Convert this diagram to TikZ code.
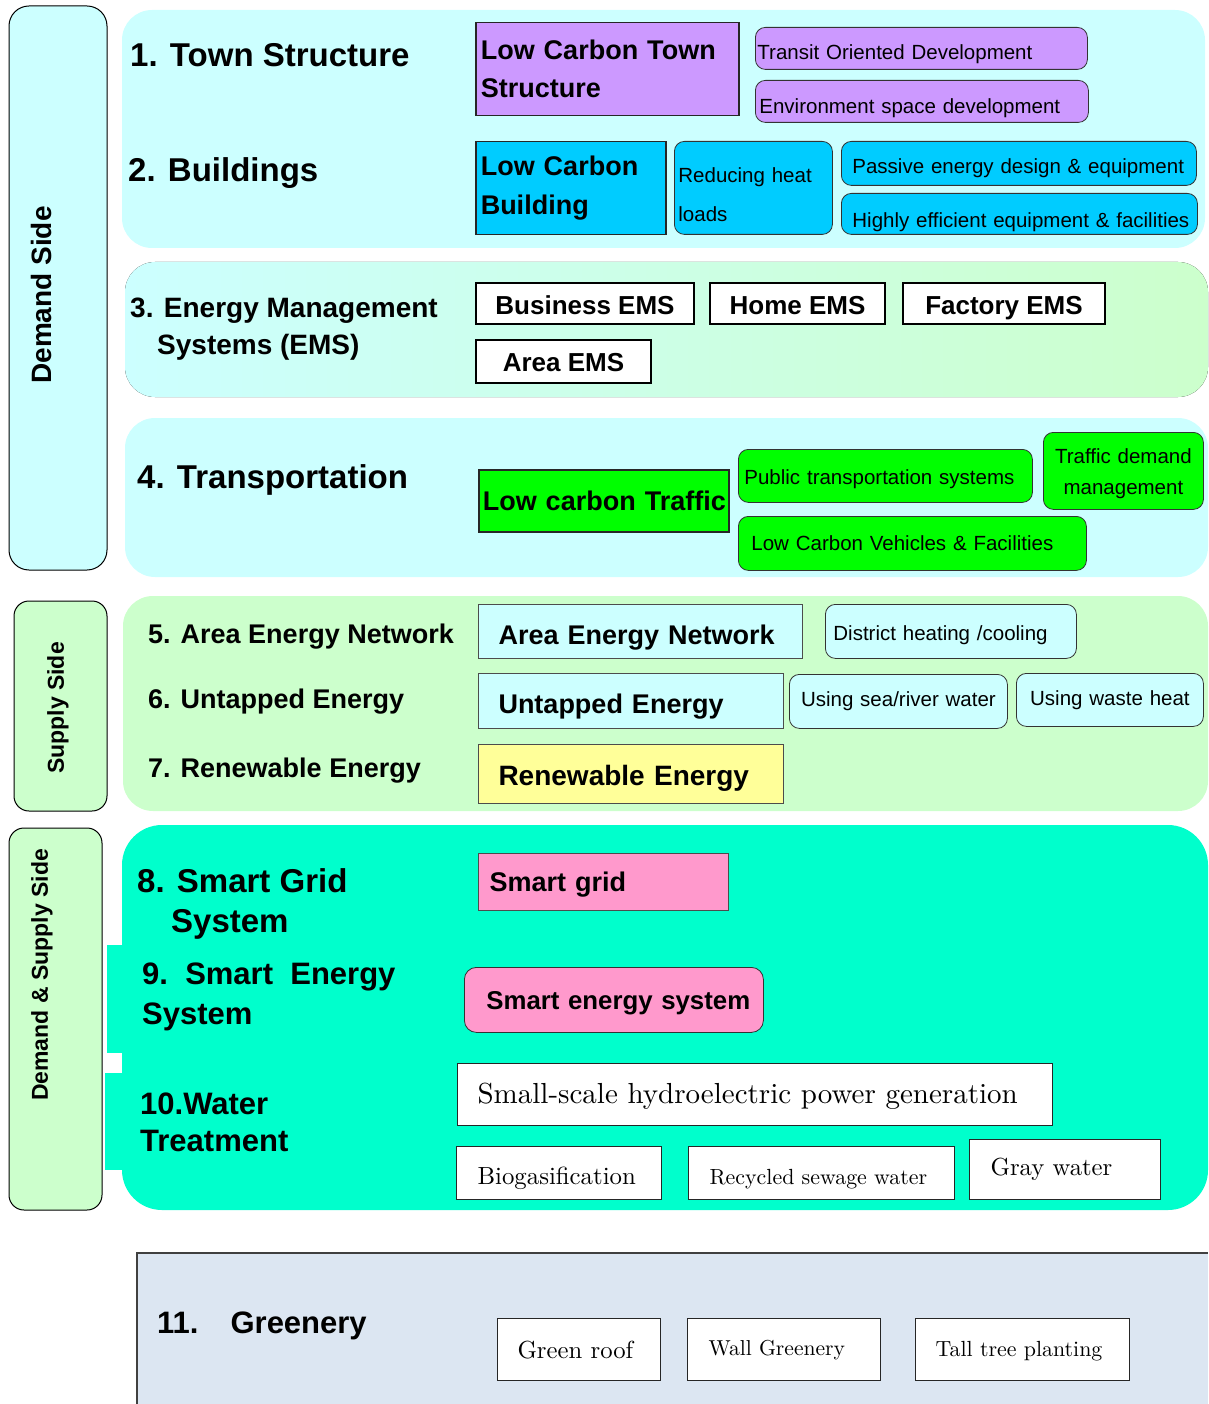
\documentclass[tikz,border=0pt]{standalone}
\usepackage{fontspec}
\newfontfamily\arial{Liberation Sans}
\newfontfamily\lmten{lmroman10-regular.otf}
\newcommand\bsf[2]{\arial\bfseries\fontsize{#1}{#2}\selectfont}
\newcommand\rsf[2]{\arial\fontsize{#1}{#2}\selectfont}
\newcommand\lmf[1]{\lmten\fontsize{#1}{#1}\selectfont}
\definecolor{paleCyan}{HTML}{CCFFFF}
\definecolor{paleGreen}{HTML}{CCFFCC}
\definecolor{lilac}{HTML}{CC99FF}
\definecolor{skyBlue}{HTML}{00CCFF}
\definecolor{limeGreen}{HTML}{00FF00}
\definecolor{aqua}{HTML}{00FFCC}
\definecolor{paleYellow}{HTML}{FFFF99}
\definecolor{rosePink}{HTML}{FF99CC}
\definecolor{greyBlue}{HTML}{DCE6F2}
\tikzset{
	lbox/.style={anchor=north west, inner ysep=0pt, align=left},
	sqbox/.style={lbox, draw=black!85, line width=1.5pt},
	rdbox/.style={lbox, draw=black!80, line width=0.8pt, rounded corners=10pt},
	emsbox/.style={anchor=north west, draw=black, line width=2pt, fill=white, inner sep=0pt,
		text depth=0pt, font={\bsf{26}{30}}},
	serbox/.style={lbox, draw=black!85, line width=1.2pt, fill=white},
	heading/.style={anchor=west, align=left, inner sep=0pt},
	side/.style={rotate=90, inner sep=0pt}
}
\begin{document}
\begin{tikzpicture}[x=1pt,y=-1pt]
\useasboundingbox (0,0) rectangle (1208,1404);
% bands
\fill[paleCyan, rounded corners=30pt] (122,10) rectangle (1205,248);
\fill[rounded corners=30pt, left color=paleCyan, right color=paleGreen] (125,262) rectangle (1208,397);
\fill[paleCyan, rounded corners=30pt] (125,418) rectangle (1208,577);
\fill[paleGreen, rounded corners=30pt] (123,596) rectangle (1208,811);
\fill[aqua, rounded corners=40pt] (122,825) rectangle (1208,1210);
\fill[aqua] (107,945) rectangle (140,1053);
\fill[aqua] (105,1073) rectangle (140,1170);
\fill[greyBlue] (137,1253) rectangle (1208,1404);
\draw[black!75, line width=2pt] (137,1404) -- (137,1253) -- (1208,1253);

% side panels
\draw[fill=paleCyan, rounded corners=20pt, line width=1pt] (9,6) rectangle (107,570);
\draw[fill=paleGreen, rounded corners=15pt, line width=1pt] (14,601) rectangle (107,811);
\draw[fill=paleGreen, rounded corners=15pt, line width=1pt] (9,828) rectangle (102,1210);
\node[side, font={\bsf{28}{34}}] (demand) at (41,295) {Demand Side};
\node[side, font={\bsf{23}{28}}] (supply) at (58,708) {Supply Side};
\node[side, font={\bsf{23}{28}}] (both) at (42,975) {Demand \& Supply Side};

% headings
\node[heading, font={\bsf{33}{40}}] (h1) at (130,55) {1. Town Structure};
\node[heading, font={\bsf{33}{40}}] (h2) at (128,173) {2. Buildings};
\node[heading, font={\bsf{28}{37}}] (h3) at (130,329) {3. Energy Management\\\hspace*{27pt}Systems (EMS)};
\node[heading, font={\bsf{33}{40}}] (h4) at (137,480) {4. Transportation};
\node[heading, font={\bsf{27}{32}}] (h5) at (148,637) {5. Area Energy Network};
\node[heading, font={\bsf{27}{32}}] (h6) at (148,702) {6. Untapped Energy};
\node[heading, font={\bsf{27}{32}}] (h7) at (148,771) {7. Renewable Energy};
\node[heading, font={\bsf{33}{40}}] (h8) at (137,904) {8. Smart Grid\\\hspace*{34pt}System};
\node[heading, font={\bsf{31}{40}}] (h9) at (142,997) {9.\ \ Smart\ \ Energy\\System};
\node[heading, font={\bsf{31}{37}}] (h10) at (140,1122) {10.Water\\Treatment};
\node[heading, font={\bsf{31}{37}}] (h11) at (157,1326) {11.\hspace{32pt}Greenery};

% 1-2 town and buildings
\node[sqbox, fill=lilac, inner xsep=5pt, text width=253pt, minimum height=93pt, font={\bsf{27}{38}}] (lctown) at (475,22) {Low Carbon Town\\Structure};
\node[rdbox, fill=lilac, inner xsep=2pt, text width=328pt, minimum height=42pt, text height=26pt, font={\rsf{20.5}{24}}] (tod) at (755,27) {Transit Oriented Development};
\node[rdbox, fill=lilac, inner xsep=4pt, text width=325pt, minimum height=42pt, text height=28pt, font={\rsf{20.5}{24}}] (esd) at (755,80) {Environment space development};
\node[sqbox, fill=skyBlue, inner xsep=5pt, text width=180pt, minimum height=93pt, font={\bsf{27}{39}}] (lcbld) at (475,141) {Low Carbon\\Building};
\node[rdbox, fill=skyBlue, inner xsep=4pt, text width=150pt, minimum height=93pt, font={\rsf{20.5}{39}}] (heat) at (674,141) {\rule{0pt}{29pt}Reducing heat\\loads};
\node[rdbox, fill=skyBlue, inner xsep=11pt, text width=333pt, minimum height=44pt, text height=24pt, font={\rsf{20.5}{24}}] (passive) at (841,141) {Passive energy design \& equipment};
\node[rdbox, fill=skyBlue, inner xsep=11pt, text width=334pt, minimum height=41pt, text height=31pt, font={\rsf{20.5}{24}}] (effic) at (841,193) {\mbox{Highly efficient equipment \& facilities}};

% 3 EMS
\foreach \nm/\x/\y/\w/\h/\th/\txt in {bems/475/282/218/41/23/Business EMS, hems/709/282/175/41/23/Home EMS,
	fems/902/282/202/41/23/Factory EMS, aems/475/339/175/43/19/Area EMS}
{
	\node[emsbox, minimum width=\w pt, minimum height=\h pt, text height=\th pt] (\nm) at (\x,\y) {\txt};
}

% 4 transportation
\node[sqbox, fill=limeGreen, inner xsep=4pt, text width=242pt, minimum height=62pt, text height=25pt, text depth=6pt, font={\bsf{27}{32}}] (traffic) at (478,469) {\mbox{Low carbon Traffic}};
\node[rdbox, fill=limeGreen, inner xsep=6pt, text width=282pt, minimum height=53pt, text height=21pt, font={\rsf{20.5}{24}}] (public) at (738,449) {Public transportation systems};
\node[rdbox, fill=limeGreen, inner xsep=0pt, text width=160pt, minimum height=77pt, align=center, font={\rsf{20.5}{31}}] (tdm) at (1043,432) {\rule{0pt}{21pt}Traffic demand\\management};
\node[rdbox, fill=limeGreen, inner xsep=13pt, text width=322pt, minimum height=54pt, font={\rsf{20.5}{24}}] (vehic) at (738,516) {Low Carbon Vehicles \& Facilities};

% 5-7 supply
\node[sqbox, draw=black!70, line width=1pt, fill=paleCyan, inner xsep=20pt, text width=284pt, minimum height=54pt, text height=31pt, text depth=6pt, font={\bsf{27}{32}}] (aen) at (478,604) {Area Energy Network};
\node[rdbox, fill=paleCyan, inner xsep=8pt, text width=235pt, minimum height=54pt, text height=22pt, font={\rsf{20.5}{24}}] (district) at (825,604) {District heating /cooling};
\node[sqbox, draw=black!70, line width=1pt, fill=paleCyan, inner xsep=20pt, text width=265pt, minimum height=55pt, text height=30pt, text depth=6pt, font={\bsf{27}{32}}] (untap) at (478,673) {Untapped Energy};
\node[rdbox, fill=paleCyan, inner xsep=0pt, text width=218pt, minimum height=54pt, align=center, font={\rsf{20.5}{24}}] (sea) at (789,674) {Using sea/river water};
\node[rdbox, fill=paleCyan, inner xsep=0pt, text width=187pt, minimum height=53pt, align=center, font={\rsf{20.5}{24}}] (waste) at (1016,673) {Using waste heat};
\node[sqbox, draw=black!70, line width=1pt, fill=paleYellow, inner xsep=20pt, text width=265pt, minimum height=59pt, text height=29pt, text depth=6pt, font={\bsf{28}{32}}] (renew) at (478,744) {Renewable Energy};

% 8-10 smart systems and water
\node[sqbox, draw=black!70, line width=1pt, fill=rosePink, inner xsep=11pt, text width=228pt, minimum height=57pt, text height=24pt, text depth=6pt, font={\bsf{27}{32}}] (sgrid) at (478,853) {Smart grid};
\node[rdbox, fill=rosePink, rounded corners=12pt, inner xsep=22pt, text width=255pt, minimum height=65pt, text height=26pt, text depth=6pt, font={\bsf{25.8}{30}}] (senergy) at (464,967) {\mbox{Smart energy system}};
\node[serbox, inner xsep=20pt, text width=555pt, minimum height=62pt, text height=23pt, font=\lmf{29}] (hydro) at (457,1063) {Small-scale hydroelectric power generation};
\node[serbox, inner xsep=21pt, text width=163pt, minimum height=53pt, text height=27pt, font=\lmf{24.8}] (biogas) at (456,1146) {\mbox{Biogasification}};
\node[serbox, inner xsep=21pt, text width=224pt, minimum height=53pt, text height=27pt, font=\lmf{21.9}] (sewage) at (688,1146) {\mbox{Recycled sewage water}};
\node[serbox, inner xsep=21pt, text width=149pt, minimum height=60pt, font=\lmf{24.7}] (gray) at (969,1139) {\mbox{Gray water}};

% 11 greenery
\node[serbox, inner xsep=20pt, text width=123pt, minimum height=62pt, font=\lmf{24.7}] (roof) at (497,1318) {\mbox{Green roof}};
\node[serbox, inner xsep=21pt, text width=151pt, minimum height=62pt, font=\lmf{21.6}] (wall) at (687,1318) {\mbox{Wall Greenery}};
\node[serbox, inner xsep=20pt, text width=174pt, minimum height=62pt, text height=18pt, font=\lmf{21.9}] (tree) at (915,1318) {\mbox{Tall tree planting}};

\end{tikzpicture}
\end{document}
